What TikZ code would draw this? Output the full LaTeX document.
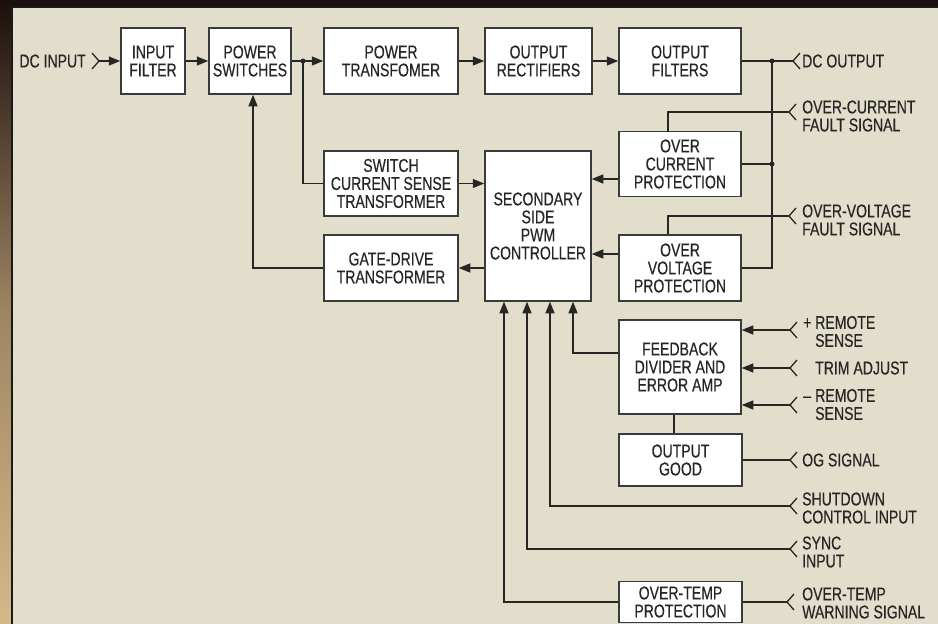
\documentclass[tikz,border=0pt]{standalone}
\usepackage{fontspec}
\setmainfont{Liberation Sans}[FakeStretch=0.76,FakeBold=0.35]
\usetikzlibrary{arrows.meta,calc}
\definecolor{panel}{HTML}{E3DDCB}
\definecolor{ink}{HTML}{262626}
\definecolor{boxline}{HTML}{3A3A3A}
\definecolor{frameA}{HTML}{1C0E0C}
\definecolor{frameB}{HTML}{D6B888}
\newcommand\chevL[1]{\draw[wire] ($(#1)+(7,-8)$) -- (#1) -- ($(#1)+(7,8)$);}
\begin{document}
\begin{tikzpicture}[x=1pt,y=-1pt,
  box/.style={draw=boxline, line width=1.5pt, fill=white, text=ink, align=center, inner sep=0pt, font=\fontsize{18.5}{18}\selectfont},
  lbl/.style={text=ink, align=left, inner sep=0pt, font=\fontsize{18.5}{18}\selectfont},
  wire/.style={draw=ink, line width=1.3pt},
  arr/.style={wire, -{Triangle[length=11.5pt,width=9pt]}},
  dot/.style={circle, fill=ink, inner sep=0pt, minimum size=5pt},
]
\useasboundingbox (0,0) rectangle (938,624);
% frame / background
\fill[frameA] (0,0) rectangle (938,624);
\shade[top color=frameA, bottom color=frameB, middle color=frameB!70!frameA] (0,0) rectangle (11,624);
\fill[panel] (12,7) rectangle (938,624);
\draw[line width=2pt, black!90] (12,624) -- (12,7) -- (938,7);

% boxes
\node[box, minimum width=64pt,  minimum height=66pt] (inf) at (153,61)   {INPUT\\FILTER};
\node[box, minimum width=82pt,  minimum height=66pt] (psw) at (250,61)   {POWER\\SWITCHES};
\node[box, minimum width=134pt, minimum height=66pt] (ptr) at (391,61)   {POWER\\TRANSFOMER};
\node[box, minimum width=107pt, minimum height=66pt] (ore) at (538.5,61) {OUTPUT\\RECTIFIERS};
\node[box, minimum width=122pt, minimum height=66pt] (ofi) at (680,61)   {OUTPUT\\FILTERS};
\node[box, minimum width=134pt, minimum height=65pt] (scs) at (391,183.5) {SWITCH\\CURRENT SENSE\\TRANSFORMER};
\node[box, minimum width=134pt, minimum height=66pt] (gdt) at (391,268)  {GATE-DRIVE\\TRANSFORMER};
\node[box, minimum width=106pt, minimum height=150pt] (sec) at (538,226) {SECONDARY\\SIDE\\PWM\\CONTROLLER};
\node[box, minimum width=122pt, minimum height=65pt] (ocp) at (680,164)  {OVER\\CURRENT\\PROTECTION};
\node[box, minimum width=122pt, minimum height=66pt] (ovp) at (680,268)  {OVER\\VOLTAGE\\PROTECTION};
\node[box, minimum width=122pt, minimum height=94pt] (fb)  at (680,367)  {FEEDBACK\\DIVIDER AND\\ERROR AMP};
\node[box, minimum width=123pt, minimum height=52pt] (og)  at (680.5,460) {OUTPUT\\GOOD};
\node[box, minimum width=123pt, minimum height=41pt] (otp) at (680.5,602) {OVER-TEMP\\PROTECTION};

% labels
\node[lbl, anchor=east] (ldcin) at (86,61) {DC INPUT};
\node[lbl, anchor=west] (ldcout) at (802,61) {DC OUTPUT};
\node[lbl, anchor=west] (locf) at (802,116) {OVER-CURRENT\\FAULT SIGNAL};
\node[lbl, anchor=west] (lovf) at (802,220) {OVER-VOLTAGE\\FAULT SIGNAL};
\node[lbl, anchor=west] (lrsp) at (803,331.5) {\makebox[12pt][l]{+}REMOTE\\\hspace*{12pt}SENSE};
\node[lbl, anchor=west] (ltrim) at (815,368) {TRIM ADJUST};
\node[lbl, anchor=west] (lrsm) at (803,404.5) {\makebox[12pt][l]{–}REMOTE\\\hspace*{12pt}SENSE};
\node[lbl, anchor=west] (log) at (802,460) {OG SIGNAL};
\node[lbl, anchor=west] (lsd) at (802,508) {SHUTDOWN\\CONTROL INPUT};
\node[lbl, anchor=west] (lsy) at (802,552) {SYNC\\INPUT};
\node[lbl, anchor=west] (lot) at (802,603) {OVER-TEMP\\WARNING SIGNAL};

% coordinates
\coordinate (cin) at (99,61);
\coordinate (cout) at (793,61);
\coordinate (t1) at (668,112);
\coordinate (cocf) at (789,112);
\coordinate (t2) at (668,216);
\coordinate (covf) at (789,216);
\coordinate (v1) at (772,268);
\coordinate (a1) at (0,179);
\coordinate (a2) at (0,254);
\coordinate (g1) at (253,268);
\coordinate (crp) at (790,330);
\coordinate (ctr) at (790,368);
\coordinate (crm) at (790,405);
\coordinate (f1) at (573,353);
\coordinate (f2) at (674,0);
\coordinate (cog) at (790,460);
\coordinate (csd) at (790,506);
\coordinate (s1) at (550,506);
\coordinate (csy) at (790,549);
\coordinate (s2) at (527,549);
\coordinate (s3) at (504,602);
\coordinate (cot) at (787,602);

% dots
\node[dot] (j1) at (303,61) {};
\node[dot] (j2) at (772,61) {};
\node[dot] (j3) at (772,164) {};

% chevrons
\draw[wire] ($(cin)+(-7,-8)$) -- (cin) -- ($(cin)+(-7,8)$);
\chevL{cout}
\chevL{cocf}
\chevL{covf}
\chevL{crp}
\chevL{ctr}
\chevL{crm}
\chevL{cog}
\chevL{csd}
\chevL{csy}
\chevL{cot}

% main power path
\draw[arr] (cin) -- (inf.west);
\draw[arr] (inf) -- (psw);
\draw[arr] (psw) -- (ptr);
\draw[arr] (ptr) -- (ore);
\draw[arr] (ore) -- (ofi);
\draw[wire] (ofi.east) -- (cout);
\draw[wire] (j1.center) |- (scs.west);

% output sensing
\draw[wire] (j2.center) -- (v1) -- (ovp.east |- v1);
\draw[wire] (ocp.east) -- (j3.center);
\draw[wire] (t1 |- ocp.north) -- (t1) -- (cocf);
\draw[wire] (t2 |- ovp.north) -- (t2) -- (covf);

% into / out of controller
\draw[arr] (ocp.west |- a1) -- (sec.east |- a1);
\draw[arr] (ovp.west |- a2) -- (sec.east |- a2);
\draw[arr] (scs.east) -- (sec.west |- scs.east);
\draw[arr] (sec.west |- gdt.east) -- (gdt.east);
\draw[arr] (gdt.west) -- (g1) -- (g1 |- psw.south);

% feedback
\draw[arr] (crp) -- (fb.east |- crp);
\draw[arr] (ctr) -- (fb.east |- ctr);
\draw[arr] (crm) -- (fb.east |- crm);
\draw[arr] (fb.west |- f1) -- (f1) -- (f1 |- sec.south);
\draw[wire] (f2 |- fb.south) -- (f2 |- og.north);
\draw[wire] (og.east) -- (cog);

% bottom inputs
\draw[arr] (csd) -- (s1) -- (s1 |- sec.south);
\draw[arr] (csy) -- (s2) -- (s2 |- sec.south);
\draw[arr] (otp.west) -- (s3) -- (s3 |- sec.south);
\draw[wire] (otp.east) -- (cot);
\end{tikzpicture}
\end{document}
